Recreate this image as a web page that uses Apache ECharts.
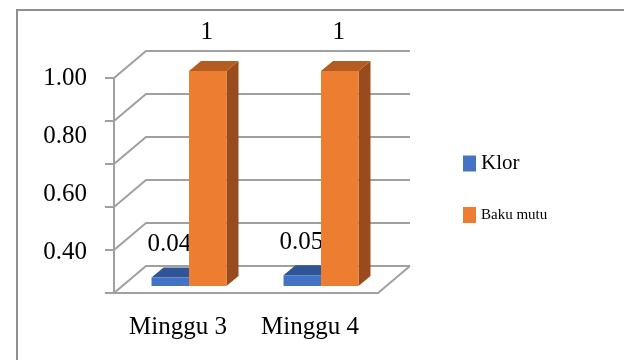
<!DOCTYPE html>
<html>
<head>
<meta charset="utf-8">
<script src="https://cdn.jsdelivr.net/npm/echarts@6/dist/echarts.min.js"></script>
<style>
  html, body { margin: 0; padding: 0; background: #fff; }
  #chart { width: 624px; height: 360px; }
</style>
</head>
<body>
<div id="chart"></div>
<script>
// Weekly chlorine reading against the quality standard
const categories = ['Minggu 3', 'Minggu 4'];
const klor = [0.04, 0.05];
const bakuMutu = [1, 1];
const gridTicks = [0, 0.2, 0.4, 0.6, 0.8, 1.0];
const valueLabels = [0.4, 0.6, 0.8, 1.0];

const SERIF = "'Liberation Serif', 'Times New Roman', serif";
const GRID_COLOR = '#a0a0a0';

// oblique projection offsets for the pseudo-3D look
const WALL = [32, -27];      // back wall relative to the front plane
const BAR_FRONT = [9, -7];   // bar front face relative to the front plane
const BAR_DEPTH = [12, -10]; // bar thickness

function renderWall(params, api) {
  const cs = params.coordSys;
  const v = api.value(1);
  const y = api.coord([0, v])[1];
  const left = cs.x, right = cs.x + cs.width;
  const style = { stroke: GRID_COLOR, lineWidth: 2, fill: null };
  const children = [{
    type: 'polyline',
    shape: { points: [[left, y], [left + WALL[0], y + WALL[1]], [right + WALL[0], y + WALL[1]]] },
    style: style
  }];
  if (v === 0) {
    children.push({
      type: 'line',
      shape: { x1: right, y1: y, x2: right + WALL[0], y2: y + WALL[1] },
      style: style
    });
  }
  return { type: 'group', children: children };
}

function barRenderer(side, colors, labelGap) {
  return function (params, api) {
    const cat = api.value(0), val = api.value(1);
    const base = api.coord([cat, 0]);
    const top = api.coord([cat, val]);
    const w = api.size([1, 0])[0] * 0.284;
    const x0 = base[0] + BAR_FRONT[0] + (side === 0 ? -w : 0);
    const x1 = x0 + w;
    const yb = base[1] + BAR_FRONT[1];
    const yt = top[1] + BAR_FRONT[1];
    const dx = BAR_DEPTH[0], dy = BAR_DEPTH[1];
    return {
      type: 'group',
      children: [
        { type: 'polygon', shape: { points: [[x1, yb], [x1 + dx, yb + dy], [x1 + dx, yt + dy], [x1, yt]] },
          style: { fill: colors.side } },
        { type: 'polygon', shape: { points: [[x0, yt], [x0 + dx, yt + dy], [x1 + dx, yt + dy], [x1, yt]] },
          style: { fill: colors.top } },
        { type: 'rect', shape: { x: x0, y: yt, width: w, height: yb - yt },
          style: { fill: colors.front } },
        { type: 'text', x: (x0 + x1) / 2 - 1, y: yt - labelGap,
          style: { text: String(val), fill: '#000', font: '25px ' + SERIF,
                   align: 'center', verticalAlign: 'middle' } }
      ]
    };
  };
}

const chart = echarts.init(document.getElementById('chart'), null, { renderer: 'canvas' });

chart.setOption({
  animation: false,
  backgroundColor: '#fff',
  graphic: [{
    type: 'rect',
    shape: { x: 17, y: 10, width: 700, height: 400 },
    style: { fill: null, stroke: '#8f8f8f', lineWidth: 2 },
    silent: true
  }],
  grid: { left: 114, top: 78, width: 264, height: 215 },
  legend: {
    orient: 'vertical',
    left: 463,
    top: 153,
    padding: 0,
    icon: 'rect',
    itemWidth: 13,
    itemHeight: 16,
    itemGap: 33,
    textStyle: { fontFamily: SERIF, color: '#000' },
    data: [
      { name: 'Klor', textStyle: { fontSize: 21 } },
      { name: 'Baku mutu', textStyle: { fontSize: 15, padding: [10, 0, 0, 0] } }
    ]
  },
  xAxis: {
    type: 'category',
    data: categories,
    boundaryGap: true,
    axisLine: { lineStyle: { color: GRID_COLOR, width: 2 } },
    axisTick: { length: 8, lineStyle: { color: GRID_COLOR, width: 2 } },
    axisLabel: { interval: 0, hideOverlap: false, fontFamily: SERIF, fontSize: 25, color: '#000', margin: 22, padding: [0, 4, 0, 0] },
    splitLine: { show: false }
  },
  yAxis: [{
    type: 'value',
    min: 0,
    max: 1,
    interval: 0.2,
    axisLine: { show: true, lineStyle: { color: GRID_COLOR, width: 2 } },
    axisTick: { show: true, length: 9, lineStyle: { color: GRID_COLOR, width: 2 } },
    axisLabel: { show: false },
    splitLine: { show: false }
  }, {
    type: 'value',
    min: 0.26,
    max: 1,
    position: 'left',
    axisLine: { show: false },
    axisTick: { show: false },
    splitLine: { show: false },
    axisLabel: {
      customValues: valueLabels,
      formatter: v => v.toFixed(2),
      fontFamily: SERIF,
      fontSize: 25,
      color: '#000',
      margin: 27
    }
  }],
  series: [{
    type: 'custom',
    name: 'walls',
    z: 1,
    silent: true,
    renderItem: renderWall,
    data: gridTicks.map(v => [0, v])
  }, {
    type: 'custom',
    name: 'Klor',
    z: 2,
    itemStyle: { color: '#4472c4' },
    renderItem: barRenderer(0, { front: '#4472c4', top: '#2f5597', side: '#2b4f8c' }, 33),
    encode: { x: 0, y: 1 },
    data: klor.map((v, i) => [i, v])
  }, {
    type: 'custom',
    name: 'Baku mutu',
    z: 3,
    itemStyle: { color: '#ed7d31' },
    renderItem: barRenderer(1, { front: '#ed7d31', top: '#b55c21', side: '#9a4b1d' }, 39),
    encode: { x: 0, y: 1 },
    data: bakuMutu.map((v, i) => [i, v])
  }]
});
</script>
</body>
</html>
